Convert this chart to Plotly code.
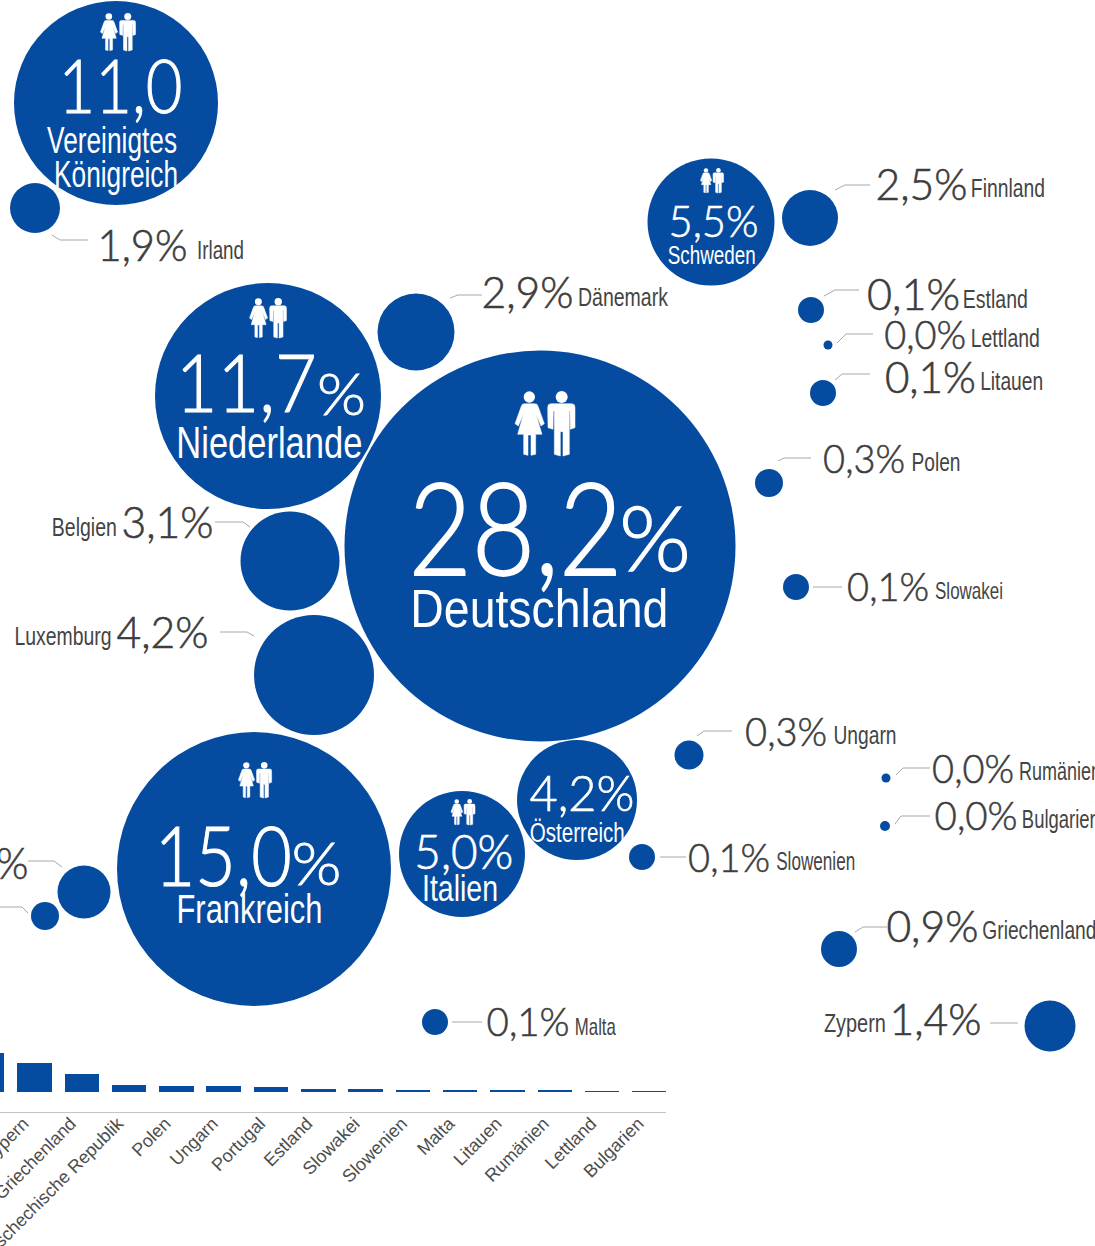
import json
import plotly.graph_objects as go

# ---------- data ----------
COUNTRIES = ["Deutschland", "Frankreich", "Niederlande", "Vereinigtes Königreich", "Schweden", "Italien",
             "Österreich", "Luxemburg", "Belgien", "Dänemark", "Finnland", "Irland", "Zypern", "Griechenland",
             "Portugal", "Tschechische Republik", "Polen", "Ungarn", "Estland", "Litauen", "Slowakei",
             "Slowenien", "Malta", "Lettland", "Rumänien", "Bulgarien"]
SHARES = [28.2, 15.0, 11.7, 11.0, 5.5, 5.0, 4.2, 4.2, 3.1, 2.9, 2.5, 1.9, 1.4, 0.9,
          1.5, 0.3, 0.3, 0.3, 0.1, 0.1, 0.1, 0.1, 0.1, 0.0, 0.0, 0.0]

BAR_CATEGORIES = ["Irland", "Zypern", "Griechenland", "Tschechische Republik", "Polen", "Ungarn", "Portugal",
                  "Estland", "Slowakei", "Slowenien", "Malta", "Litauen", "Rumänien", "Lettland", "Bulgarien"]
BAR_VALUES = [1.9, 1.4, 0.9, 0.34, 0.3, 0.28, 0.25, 0.17, 0.15, 0.12, 0.12, 0.08, 0.05, 0.03, 0.02]

# ---------- layout of the bubbles (page pixels) ----------
BUBBLE_X = [540, 254, 268, 116, 711, 462, 577, 314, 290, 416, 810, 35, 1050, 839,
            84, 45, 769, 689, 811, 823, 796, 642, 435, 828, 886, 885]
BUBBLE_Y = [546, 869, 396, 103, 222, 854, 800, 675, 561, 332, 218, 208, 1026, 949,
            892, 916, 483, 755, 310, 393, 587, 857, 1022, 345, 778, 826]
BUBBLE_D = [391, 274, 226, 204, 127, 126, 120, 120, 99, 77, 56, 50, 51, 36,
            53, 28, 28, 29, 26, 26, 26, 26, 26, 9, 9, 10]

BLUE = "#054ca0"
DARK = "#3d3d3d"
LEAD = "#a8a8a8"
WHITE = "#ffffff"
NUM_FONT = "Lato"
NAME_FONT = "Liberation Sans"
W, H = 1095, 1246


def fmt(name, pct=True):
    v = SHARES[COUNTRIES.index(name)]
    s = f"{v:.1f}".replace(".", ",")
    return s + "%" if pct else s


fig = go.Figure()
fig.add_trace(go.Scatter(x=BUBBLE_X, y=BUBBLE_Y, mode="markers", text=COUNTRIES, customdata=SHARES,
                         cliponaxis=False, hovertemplate="%{text}: %{customdata}%<extra></extra>",
                         marker=dict(size=BUBBLE_D, sizemode="diameter", sizeref=1, color=BLUE,
                                     line=dict(width=0), opacity=1)))

fig.add_trace(go.Bar(x=list(range(-1, len(BAR_VALUES) - 1)), y=BAR_VALUES, xaxis="x2", yaxis="y2",
                     width=0.73, marker=dict(color=BLUE, line=dict(width=0)),
                     hovertext=BAR_CATEGORIES, hoverinfo="text+y"))

ann = []
widths = []


def txt(l, r, y, s, size, color=DARK, font=NUM_FONT, weight=300):
    cx = (l + r) / 2.0
    a = dict(y=y, yref="y", text=s, showarrow=False, xanchor="center", yanchor="middle", borderpad=0,
             font=dict(family=font, size=size, color=color, weight=weight))
    if 0 <= cx <= W:
        a.update(x=cx, xref="x")
    else:
        a.update(x=cx / W, xref="paper")
    ann.append(a)
    widths.append(r - l)


def name(l, r, y, s, size, color="#444444"):
    txt(l, r, y, s, size, color=color, font=NAME_FONT, weight=400)


# outside labels: (country, value left, right, y, size, name left, right, y, size)
OUTSIDE = [
    ("Irland", 97, 187, 244, 44, 197, 244, 250, 26),
    ("Finnland", 875, 967, 183, 44, 971, 1045, 188, 26),
    ("Estland", 867, 960, 293, 44, 963, 1028, 299, 26),
    ("Lettland", 884, 966, 334, 40, 971, 1040, 338, 26),
    ("Litauen", 885, 976, 376, 43, 980, 1043, 381, 26),
    ("Polen", 823, 905, 458, 39, 911, 960, 462, 25),
    ("Slowakei", 847, 929, 586, 39, 935, 1003, 590, 24),
    ("Ungarn", 745, 827, 731, 39, 833, 896, 735, 25),
    ("Rumänien", 932, 1014, 768, 39, 1019, 1101, 771, 25),
    ("Bulgarien", 934, 1017, 815, 39, 1022, 1100, 819, 25),
    ("Slowenien", 688, 770, 857, 39, 776, 855, 861, 25),
    ("Griechenland", 886, 978, 925, 43, 982, 1096, 930, 25),
    ("Malta", 486, 569, 1021, 39, 575, 616, 1026, 24),
    ("Dänemark", 481, 573, 291, 44, 578, 668, 297, 26),
]
for c, vl, vr, vy, vs, nl, nr, ny, ns in OUTSIDE:
    txt(vl, vr, vy, fmt(c), vs)
    name(nl, nr, ny, c, ns)

# labels with the name first
txt(889, 981, 1018, fmt("Zypern"), 44)
name(824, 886, 1023, "Zypern", 25)
txt(121, 213, 521, fmt("Belgien"), 44)
name(52, 117, 527, "Belgien", 26)
txt(116, 208, 631, fmt("Luxemburg"), 44)
name(14, 111, 636, "Luxemburg", 26)
txt(-62, 28, 862, fmt("Portugal"), 44)

# inside labels
txt(58, 182, 84, fmt("Vereinigtes Königreich", pct=False), 74, color=WHITE)
name(47, 177, 140, "Vereinigtes", 36, color=WHITE)
name(54, 178, 174, "Königreich", 36, color=WHITE)

txt(176, 317, 381, fmt("Niederlande", pct=False), 80, color=WHITE)
txt(317, 366, 392, "%", 58, color=WHITE)
name(176, 362, 442, "Niederlande", 45, color=WHITE)

txt(408, 622, 525, fmt("Deutschland", pct=False), 128, color=WHITE)
txt(619, 691, 536, "%", 90, color=WHITE)
name(410, 668, 608, "Deutschland", 53, color=WHITE)

txt(155, 292, 854, fmt("Frankreich", pct=False), 82, color=WHITE)
txt(291, 341, 862, "%", 60, color=WHITE)
name(176, 322, 909, "Frankreich", 40, color=WHITE)

txt(414, 513, 850, fmt("Italien"), 48, color=WHITE)
name(422, 498, 888, "Italien", 36, color=WHITE)
txt(529, 634, 792, fmt("Österreich"), 50, color=WHITE)
name(530, 625, 833, "Österreich", 27, color=WHITE)
txt(668, 758, 220, fmt("Schweden"), 44, color=WHITE)
name(667, 755, 255, "Schweden", 26, color=WHITE)

# leader lines (page pixels)
LEADERS = [
    [(52, 235), (60, 240), (88, 240)], [(835, 190), (845, 185), (870, 185)],
    [(824, 296), (835, 290), (859, 290)], [(837, 343), (846, 334), (873, 334)],
    [(835, 380), (842, 374), (870, 374)], [(778, 461), (784, 458), (811, 458)],
    [(813, 587), (842, 587)], [(697, 736), (704, 731), (732, 731)],
    [(896, 775), (903, 768), (930, 768)], [(895, 824), (901, 816), (930, 816)],
    [(660, 857), (686, 857)], [(855, 932), (863, 927), (887, 927)],
    [(990, 1023), (1018, 1023)], [(452, 1022), (482, 1022)],
    [(450, 298), (458, 295), (482, 295)], [(215, 522), (243, 522), (250, 527)],
    [(220, 632), (247, 632), (254, 636)], [(28, 861), (54, 861), (62, 867)],
    [(0, 907), (22, 907), (28, 913)],
]
shapes = []
for pts in LEADERS:
    d = "M " + " L ".join(f"{a},{b}" for a, b in pts)
    shapes.append(dict(type="path", path=d, xref="x", yref="y", line=dict(color=LEAD, width=1)))

# the couple pictogram, drawn on a 195-unit tall grid
WOMAN = [(70, 128), (100, 128), (108, 130), (112, 138), (130, 188), (120, 195), (105, 160), (123, 220),
         (104, 220), (104, 280), (90, 283), (90, 222), (81, 222), (81, 283), (68, 280), (68, 220), (50, 220),
         (67, 160), (52, 195), (42, 188), (60, 138), (64, 130)]
MAN = [(150, 128), (212, 128), (220, 131), (222, 140), (222, 200), (208, 205), (207, 150), (205, 150), (205, 280),
       (186, 285), (186, 212), (178, 212), (178, 285), (160, 280), (160, 150), (157, 150), (156, 205), (141, 200),
       (140, 140), (142, 131)]


def icon(cx, top, bottom):
    k = (bottom - top) / 195.0
    px = lambda a: cx + (a - 132) * k
    py = lambda b: top + (b - 90) * k
    for poly in (WOMAN, MAN):
        d = "M " + " L ".join(f"{px(a):.2f},{py(b):.2f}" for a, b in poly) + " Z"
        shapes.append(dict(type="path", path=d, xref="x", yref="y", fillcolor=WHITE, line=dict(color=WHITE, width=0.5)))
    for hx, hy, r in ((85, 108, 17), (182, 108, 18)):
        shapes.append(dict(type="circle", xref="x", yref="y", x0=px(hx - r), x1=px(hx + r), y0=py(hy - r),
                           y1=py(hy + r), fillcolor=WHITE, line=dict(width=0)))


icon(118, 13, 51)
icon(268, 298, 338)
icon(545, 391, 456)
icon(255, 762, 798)
icon(463, 799, 825)
icon(712, 168, 193)

BAR_LEFT, BAR_STEP = 34.5, 47.3
ticks = list(range(0, len(BAR_VALUES) - 1))

fig.update_layout(
    width=W, height=H, margin=dict(l=0, r=0, t=0, b=0, autoexpand=False), autosize=False,
    paper_bgcolor="white", plot_bgcolor="rgba(0,0,0,0)", showlegend=False, bargap=0,
    annotations=ann, shapes=shapes,
    xaxis=dict(range=[0, W], domain=[0, 1], visible=False, fixedrange=True),
    yaxis=dict(range=[H, 0], domain=[0, 1], visible=False, fixedrange=True),
    xaxis2=dict(domain=[0, 666 / W], anchor="y2", fixedrange=True,
                range=[(0 - BAR_LEFT) / BAR_STEP, (666 - BAR_LEFT) / BAR_STEP],
                tickmode="array", tickvals=ticks, ticktext=BAR_CATEGORIES[1:], tickangle=-45,
                tickfont=dict(family=NAME_FONT, size=18, color="#4d4d4d"), ticklabeloverflow="allow",
                ticklabelshift=-11, ticklabelstandoff=-7,
                showgrid=False, zeroline=False, showline=True, linecolor="#c4c4c4", linewidth=1, ticks=""),
    yaxis2=dict(domain=[(H - 1112) / H, (H - 1040) / H], anchor="x2", range=[-20 / 20.5, 52 / 20.5],
                visible=False, fixedrange=True),
)

# condense every label to the width it has in the original artwork
post = """
document.body.style.margin='0';document.body.style.overflow='hidden';
var ws=%s;
document.querySelectorAll('.annotation-text').forEach(function(t,i){
  t.setAttribute('textLength',ws[i]);t.setAttribute('lengthAdjust','spacingAndGlyphs');
  if(t.style.fontFamily.indexOf('Lato')>=0){
    t.style.stroke=t.style.fill;t.style.strokeWidth=(parseFloat(t.style.fontSize)*0.014)+'px';
  }
});
document.querySelectorAll('.xtick text').forEach(function(t){
  t.setAttribute('textLength',t.getComputedTextLength()*0.86);t.setAttribute('lengthAdjust','spacingAndGlyphs');
});
""" % json.dumps(widths)
fig.write_html("out.html", post_script=post, config=dict(displayModeBar=False))
